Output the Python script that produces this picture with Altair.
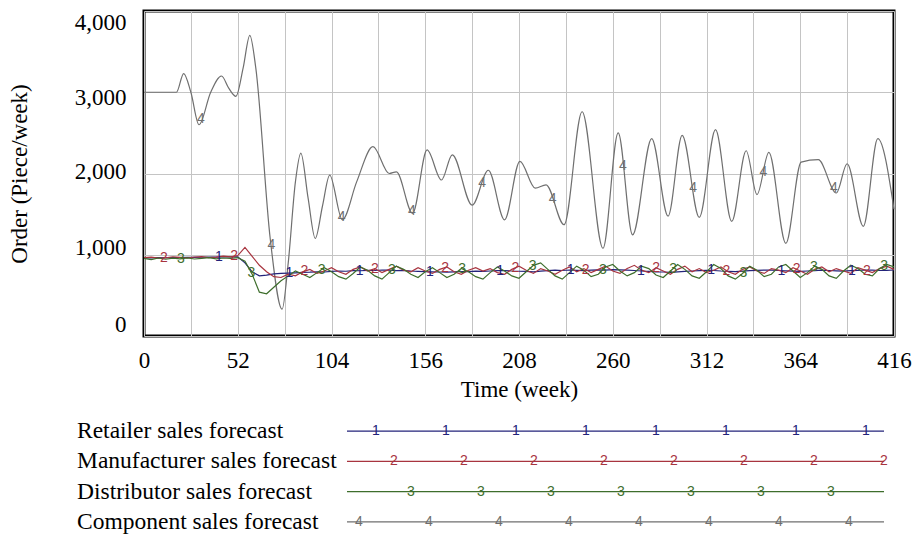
import altair as alt
import pandas as pd
import numpy as np

# ---------------- data ----------------
series_names = ["Retailer sales forecast", "Manufacturer sales forecast",
                "Distributor sales forecast", "Component sales forecast"]
series_digits = ["1", "2", "3", "4"]
series_colors = ["#23237a", "#a8343f", "#3e6e2c", "#6f6f6f"]

weeks_low = list(range(0, 417, 4))

retailer = [960, 962, 964, 963, 965, 966, 968, 967, 969, 970, 971, 972, 973, 975,
            900, 790, 740, 750, 765, 770, 775,
            778, 782, 785, 790, 788, 795, 800, 797, 805, 803,
            808, 806, 812, 810, 805, 808, 800, 796, 792, 790,
            788, 786, 790, 794, 792, 798, 795, 800, 804, 806,
            800, 797, 795, 790, 798, 805, 810, 806, 812, 808,
            805, 810, 815, 812, 818, 814, 810, 806, 800, 796,
            790, 788, 784, 790, 795, 800, 804, 808, 806, 800,
            796, 792, 798, 804, 808, 812, 810, 806, 802, 798,
            795, 800, 805, 810, 806, 802, 798, 804, 808, 812,
            810, 806, 808, 812]

manufacturer = [965, 970, 958, 962, 975, 968, 960, 972, 978, 965, 970, 982, 975, 990,
                1090, 980, 870, 790, 730, 720, 760,
                740, 790, 820, 770, 800, 840, 790, 760, 820, 850,
                800, 830, 780, 820, 860, 810, 790, 840, 800, 770,
                820, 850, 790, 760, 810, 840, 800, 830, 780, 760,
                820, 860, 810, 770, 830, 800, 760, 810, 850, 790,
                830, 780, 820, 860, 800, 770, 830, 870, 810, 780,
                840, 800, 760, 820, 860, 790, 830, 780, 810, 850,
                790, 760, 820, 850, 800, 770, 830, 810, 780, 840,
                800, 760, 820, 850, 790, 830, 800, 770, 840, 810,
                780, 830, 860, 820]

distributor = [955, 940, 960, 945, 958, 950, 962, 948, 955, 965, 950, 960, 955, 965,
               920, 760, 540, 520, 600, 680, 740,
               800, 760, 720, 780, 840, 790, 730, 700, 770, 850,
               810, 740, 700, 780, 860, 820, 760, 720, 790, 840,
               780, 720, 760, 830, 790, 730, 700, 780, 850, 800,
               740, 710, 790, 870, 900, 820, 740, 700, 780, 860,
               810, 730, 760, 850, 880, 800, 740, 780, 860, 830,
               750, 720, 800, 880, 820, 740, 710, 790, 880, 830,
               740, 700, 770, 860, 810, 730, 760, 850, 880, 800,
               720, 780, 860, 820, 740, 710, 800, 870, 830, 760,
               740, 830, 880, 850]

component_weeks = [0, 18, 22, 26, 30.5, 37, 43, 47, 51, 55, 58.7, 62, 70, 76.6, 80, 84,
                   87, 91, 95, 99, 103, 110, 118, 127, 136, 140, 149, 157, 165, 171,
                   182, 191, 200, 208.5, 217, 223, 233, 243, 254.6, 263, 271, 281.6,
                   290.7, 298.5, 308, 317, 326, 334, 340, 346.6, 356, 364.5, 374, 384,
                   390, 399, 407, 416]
component = [3000, 3000, 3230, 3000, 2600, 3000, 3200, 3050, 2950, 3300, 3700, 3300,
             1200, 330, 900, 1900, 2250, 1700, 1200, 1600, 1980, 1430, 1900, 2330,
             2000, 2020, 1510, 2290, 1920, 2230, 1610, 2040, 1430, 2150, 1820, 1860,
             1370, 2760, 1080, 2500, 1245, 2430, 1475, 2470, 1460, 2540, 1410, 2280,
             1740, 2260, 1140, 2140, 2170, 1760, 2120, 1350, 2430, 1560]

label_start = [41.6, 11.0, 20.5, 31.6]   # week of first number marker on each line
label_step = 39.0

x_grid = list(range(0, 417, 26))
y_ticks = [0, 1000, 2000, 3000, 4000]

# ---------------- tables ----------------
low = [retailer, manufacturer, distributor]
rows = []
for name, vals in zip(series_names[:3], low):
    for w, v in zip(weeks_low, vals):
        rows.append({"week": w, "value": v, "series": name})
df_low = pd.DataFrame(rows)
df_comp = pd.DataFrame({"week": component_weeks, "value": component,
                        "series": series_names[3]})

all_w = [weeks_low, weeks_low, weeks_low, component_weeks]
all_v = [retailer, manufacturer, distributor, component]
lab = []
for k in range(4):
    w = label_start[k]
    while w <= 412:
        lab.append({"week": w, "value": float(np.interp(w, all_w[k], all_v[k])),
                    "series": series_names[k], "digit": series_digits[k]})
        w += label_step
df_lab = pd.DataFrame(lab)

color = alt.Color("series:N", scale=alt.Scale(domain=series_names, range=series_colors),
                  legend=None)

FONT = "Liberation Serif"

x_enc = alt.X("week:Q", scale=alt.Scale(domain=[0, 416], nice=False, zero=False),
              axis=alt.Axis(values=x_grid, labelExpr="datum.value % 52 == 0 ? datum.label : ''",
                            title="Time (week)", titleFont=FONT, titleFontSize=23,
                            titleFontWeight="normal", titleColor="black", titlePadding=6,
                            labelFont=FONT, labelFontSize=23, labelColor="black",
                            labelPadding=13, labelFlush=False, labelOverlap=False,
                            ticks=False, domain=False, grid=True, gridColor="#c4c4c4",
                            gridWidth=1))
y_enc = alt.Y("value:Q", scale=alt.Scale(domain=[0, 4000], nice=False),
              axis=alt.Axis(values=y_ticks, format=",.0f", title="Order (Piece/week)",
                            titleFont=FONT, titleFontSize=23, titleFontWeight="normal",
                            titleColor="black", titlePadding=43,
                            labelFont=FONT, labelFontSize=23, labelColor="black",
                            labelPadding=18, labelOverlap=False,
                            labelOffset={"condition": [
                                {"test": "datum.value == 4000", "value": 11},
                                {"test": "datum.value == 3000", "value": 5},
                                {"test": "datum.value == 1000", "value": -7},
                                {"test": "datum.value == 0", "value": -12}],
                                "value": -2},
                            ticks=False, domain=False, grid=True, gridColor="#c4c4c4",
                            gridWidth=1))

comp_line = alt.Chart(df_comp).mark_line(strokeWidth=1.2, interpolate="monotone").encode(
    x=x_enc, y=y_enc, color=color)
low_line = alt.Chart(df_low).mark_line(strokeWidth=1.2).encode(
    x=x_enc, y=y_enc, color=color, detail="series:N")
labels = alt.Chart(df_lab).mark_text(font="Liberation Sans", fontSize=14,
                                     align="center", baseline="middle").encode(
    x=x_enc, y=y_enc, text="digit:N", color=color)

main = alt.layer(comp_line, low_line, labels).properties(
    width=750, height=325,
    view=alt.ViewBackground(stroke="black", strokeWidth=3))

# ---------------- legend ----------------
leg_df = pd.DataFrame({"series": series_names, "digit": series_digits})
leg_offsets = [232, 250, 267, 215]
mk = []
for k in range(4):
    p = leg_offsets[k]
    while p <= 741:
        mk.append({"series": series_names[k], "digit": series_digits[k], "pos": p})
        p += 70
mk_df = pd.DataFrame(mk)

ly = alt.Y("series:N", sort=series_names, scale=alt.Scale(type="point", padding=0.5),
           axis=None)
leg_text = alt.Chart(leg_df).mark_text(align="left", baseline="middle", font=FONT,
                                       fontSize=23.5, color="black").encode(
    x=alt.value(-67), y=ly, text="series:N")
leg_rule = alt.Chart(leg_df).mark_rule(strokeWidth=1.2).encode(
    x=alt.value(203), x2=alt.value(740), y=ly, color=color)
leg_mk = alt.Chart(mk_df).mark_text(font="Liberation Sans", fontSize=14, align="center",
                                    baseline="middle").encode(
    x=alt.X("pos:Q", scale=alt.Scale(domain=[0, 750], nice=False, zero=False), axis=None),
    y=ly, text="digit:N", color=color)

legend = alt.layer(leg_text, leg_rule, leg_mk).properties(
    width=750, height=121, view=alt.ViewBackground(stroke="transparent"))

chart = alt.vconcat(main, legend, spacing=80, bounds="flush").properties(
    padding={"left": 6, "top": 9, "right": 0, "bottom": 0},
    background="white"
).configure_view(stroke="transparent")

chart.save("out.html", embed_options={"renderer": "svg", "actions": False})
